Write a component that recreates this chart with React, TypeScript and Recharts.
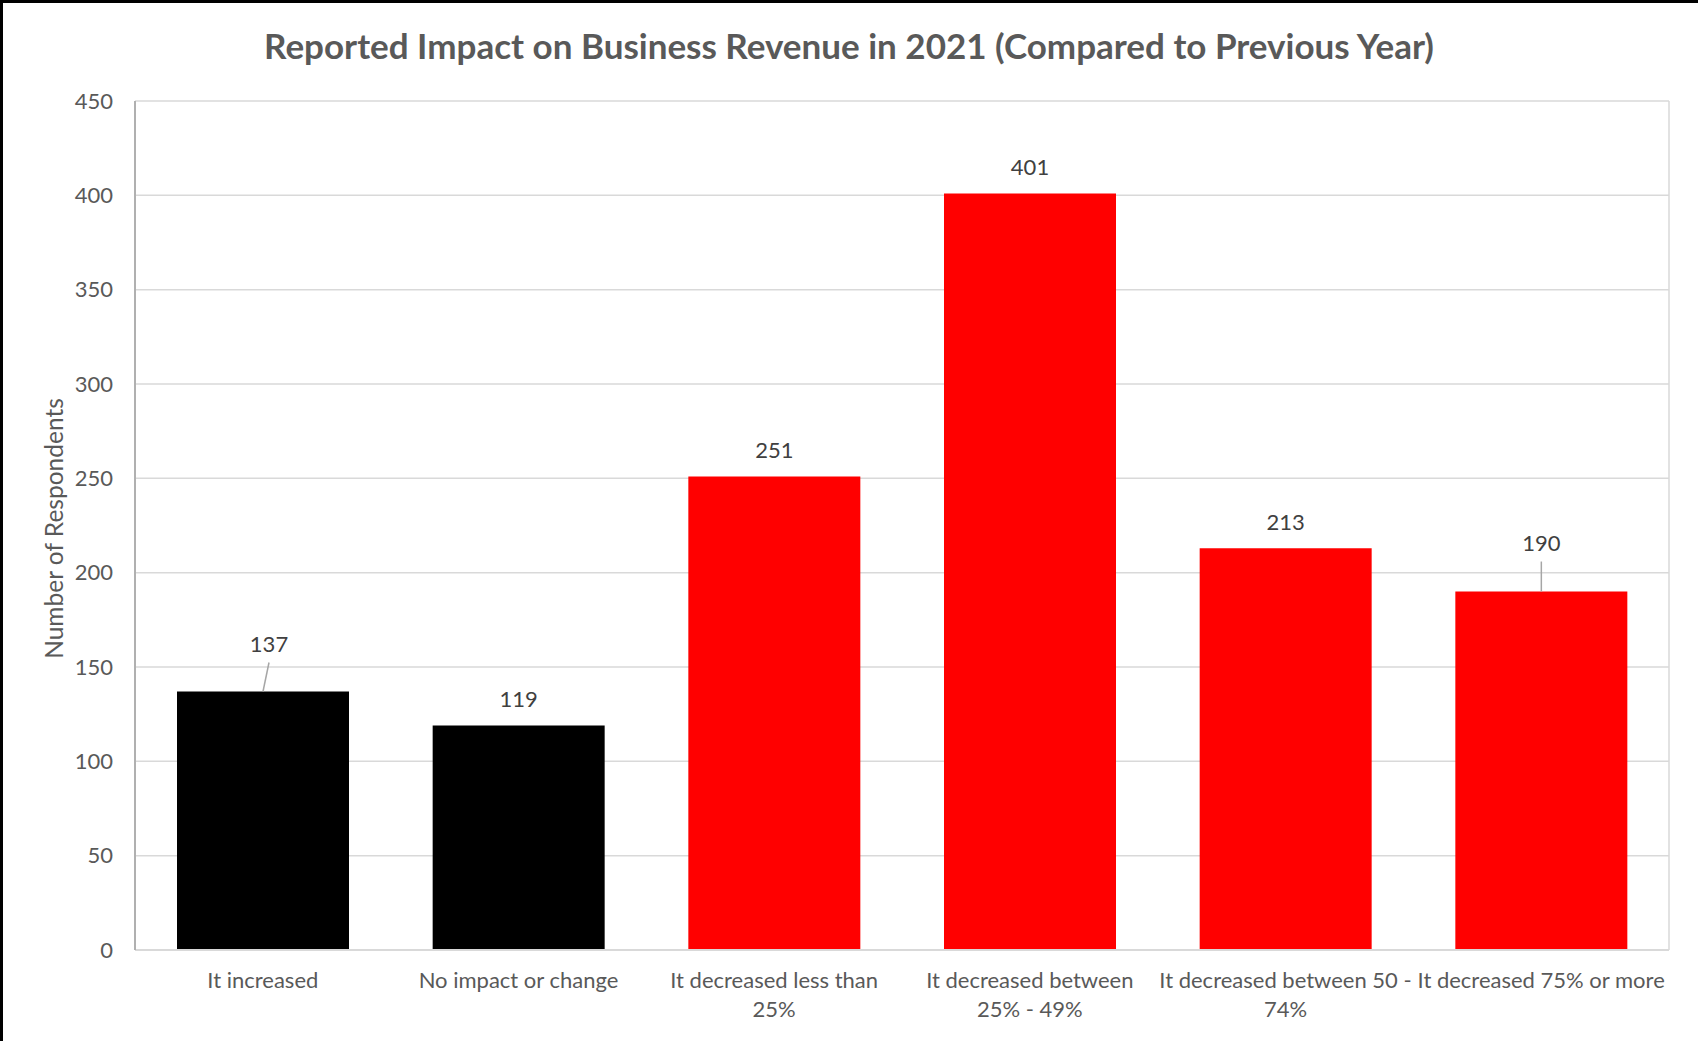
import React from "react";
import {
  BarChart,
  Bar,
  XAxis,
  YAxis,
  CartesianGrid,
  Cell,
  LabelList,
} from "recharts";

const categories = [
  "It increased",
  "No impact or change",
  "It decreased less than\n25%",
  "It decreased between\n25% - 49%",
  "It decreased between 50 -\n74%",
  "It decreased 75% or more",
];
const respondents = [137, 119, 251, 401, 213, 190];
const barColors = ["#000000", "#000000", "#FF0000", "#FF0000", "#FF0000", "#FF0000"];
const yTicks = [0, 50, 100, 150, 200, 250, 300, 350, 400, 450];

const chartTitle = "Reported Impact on Business Revenue in 2021 (Compared to Previous Year)";
const yAxisTitle = "Number of Respondents";

const data = categories.map((name, i) => ({ name, value: respondents[i] }));

// label style tweaks: bars whose data label sits higher with a leader line
const leaderLabels: Record<number, { dx: number; lift: number }> = {
  0: { dx: 6, lift: 47 },
  5: { dx: 0, lift: 48 },
};

const FONT = "Lato, 'Open Sans', sans-serif";
const TEXT = "#595959";

const XTick = (props: any) => {
  const { x, y, payload } = props;
  const lines = String(payload.value).split("\n");
  return (
    <text x={x} y={y} textAnchor="middle" fill={TEXT} fontSize={22} fontFamily={FONT}>
      {lines.map((l, i) => (
        <tspan key={i} x={x} dy={i === 0 ? 30 : 29}>
          {l}
        </tspan>
      ))}
    </text>
  );
};

const BarLabel = (props: any) => {
  const { x, y, width, value, index } = props;
  const cx = x + width / 2;
  const lead = leaderLabels[index];
  if (lead) {
    const lx = cx + lead.dx;
    const ly = y - lead.lift;
    return (
      <g>
        <line x1={lx} y1={ly + 18} x2={cx} y2={y} stroke="#a6a6a6" strokeWidth={1.5} />
        <text x={lx} y={ly + 7} textAnchor="middle" fill="#404040" fontSize={22} fontFamily={FONT}>
          {value}
        </text>
      </g>
    );
  }
  return (
    <text x={cx} y={y - 25 + 7} textAnchor="middle" fill="#404040" fontSize={22} fontFamily={FONT}>
      {value}
    </text>
  );
};

const YTitle = (props: any) => {
  const vb = props.viewBox || {};
  const cx = 53;
  const cy = vb.y + vb.height / 2 + 3;
  return (
    <text
      x={cx}
      y={cy}
      transform={`rotate(-90, ${cx}, ${cy})`}
      textAnchor="middle"
      dominantBaseline="central"
      fill={TEXT}
      fontSize={24.5}
      fontFamily={FONT}
    >
      {yAxisTitle}
    </text>
  );
};

export default function App() {
  return (
    <div
      style={{
        position: "absolute",
        left: 0,
        top: 0,
        width: 1698,
        height: 1041,
        background: "#ffffff",
        overflow: "hidden",
      }}
    >
      <div
        style={{
          position: "absolute",
          left: 0,
          top: 25,
          width: 1698,
          textAlign: "center",
          fontFamily: FONT,
          fontWeight: 700,
          fontSize: 35,
          lineHeight: "40px",
          color: TEXT,
        }}
      >
        {chartTitle}
      </div>
      <div style={{ position: "absolute", left: 0, top: 0 }}>
        <BarChart
          width={1698}
          height={1041}
          data={data}
          margin={{ top: 101, right: 29, bottom: 0, left: 0 }}
        >
          <CartesianGrid
            stroke="#d9d9d9"
            strokeWidth={1.5}
            verticalCoordinatesGenerator={(p: any) => [p.offset.left + p.offset.width]}
          />
          <XAxis
            dataKey="name"
            height={91}
            interval={0}
            tick={<XTick />}
            tickLine={false}
            axisLine={{ stroke: "#d9d9d9", strokeWidth: 2 }}
          />
          <XAxis
            xAxisId="top"
            dataKey="name"
            orientation="top"
            height={0}
            tick={false}
            tickLine={false}
            axisLine={{ stroke: "#b0b0b0", strokeWidth: 2 }}
          />
          <YAxis
            width={135}
            domain={[0, 450]}
            ticks={yTicks}
            interval={0}
            tickLine={false}
            tickMargin={16}
            axisLine={{ stroke: "#b0b0b0", strokeWidth: 2 }}
            tick={{ fill: TEXT, fontSize: 22, fontFamily: FONT }}
            label={<YTitle />}
          />
          <YAxis
            yAxisId="right"
            orientation="right"
            width={0}
            domain={[0, 450]}
            ticks={yTicks}
            tick={false}
            tickLine={false}
            axisLine={{ stroke: "#b0b0b0", strokeWidth: 2 }}
          />
          <Bar dataKey="value" barSize={172} isAnimationActive={false}>
            {data.map((d, i) => (
              <Cell key={d.name} fill={barColors[i]} />
            ))}
            <LabelList dataKey="value" content={<BarLabel />} />
          </Bar>
        </BarChart>
      </div>
      <div
        style={{
          position: "absolute",
          left: 0,
          top: 0,
          width: 1698,
          height: 1041,
          borderTop: "3px solid #000",
          borderLeft: "3px solid #000",
          boxSizing: "border-box",
          pointerEvents: "none",
        }}
      />
    </div>
  );
}
